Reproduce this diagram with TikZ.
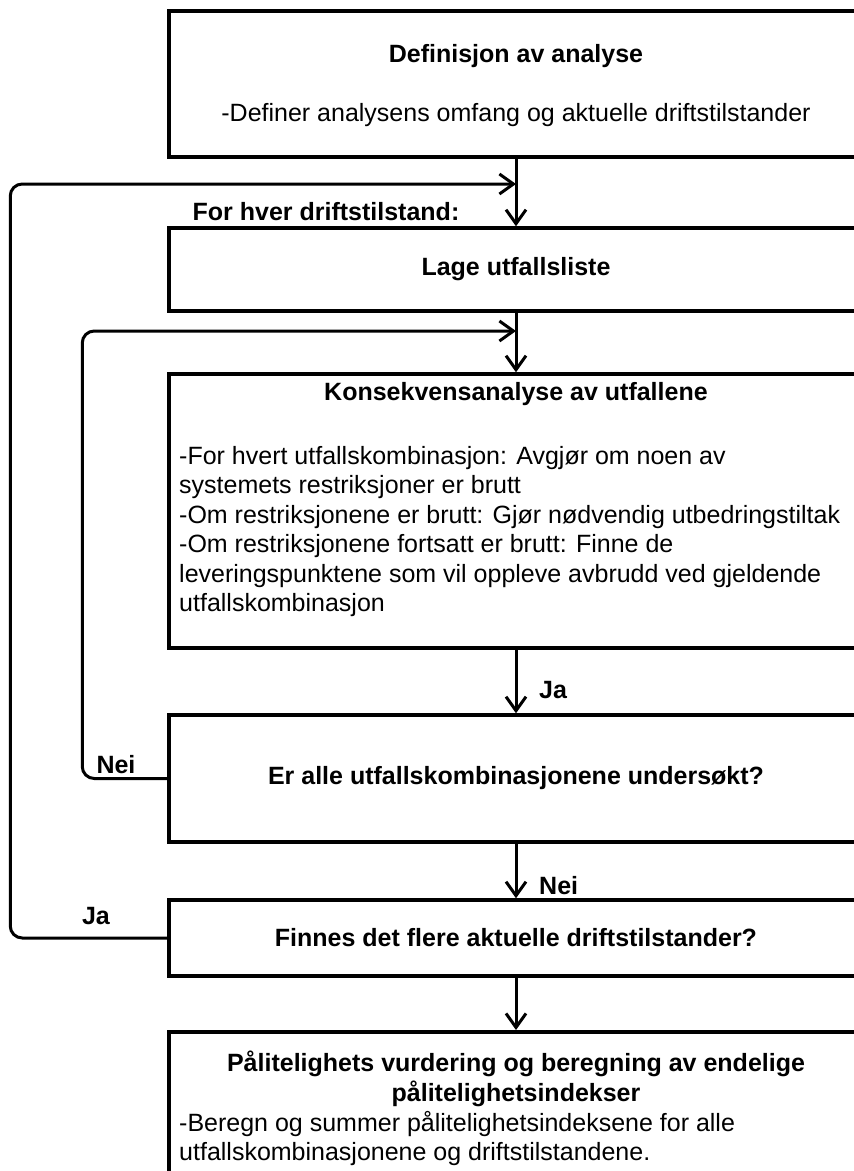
\documentclass[tikz,border=0pt]{standalone}
\usepackage{fontspec}
\setmainfont{Liberation Sans}
\usetikzlibrary{arrows.meta}

\tikzset{
  txt/.style={font=\fontsize{25}{29.5}\selectfont, inner sep=0pt},
  fet/.style={font=\fontsize{25}{29.5}\selectfont\bfseries, inner sep=0pt},
  boks/.style={draw, line width=3.5pt, minimum width=694pt, inner sep=0pt},
  pil/.style={->, line width=3pt},
}

\begin{document}
\begin{tikzpicture}[x=1pt, y=-1pt, >={Straight Barb[length=14pt,width=20pt]}]
		\clip (0,0) rectangle (854,1171);

		% Definisjon av analyse
		\node[boks, minimum height=146pt] (def) at (516,84) {};
		\node[fet] (def-t) at (516,56) {Definisjon av analyse};
		\node[txt] (def-b) at (516,115) {-Definer analysens omfang og aktuelle driftstilstander};

		% Lage utfallsliste
		\node[fet] (hver) at (326,212) {For hver driftstilstand:};
		\node[boks, fet, minimum height=83pt] (liste) at (516,269.5) {Lage utfallsliste};

		% Konsekvensanalyse
		\node[boks, minimum height=274pt] (kons) at (516,511) {};
		\node[fet] (kons-t) at (516,394) {Konsekvensanalyse av utfallene};
		\node[txt, anchor=north west, align=left] (kons-b) at (179,446) {-For hvert utfallskombinasjon: Avgjør om noen av\\
			systemets restriksjoner er brutt\\
			-Om restriksjonene er brutt: Gjør nødvendig utbedringstiltak\\
			-Om restriksjonene fortsatt er brutt: Finne de\\
			leveringspunktene som vil oppleve avbrudd ved gjeldende\\
			utfallskombinasjon};

		% Beslutninger
		\node[boks, fet, minimum height=127pt] (er) at (516,778.5) {Er alle utfallskombinasjonene undersøkt?};
		\node[boks, fet, minimum height=76pt] (fin) at (516,938) {Finnes det flere aktuelle driftstilstander?};

		% Pålitelighetsvurdering
		\node[boks, anchor=north, minimum height=200pt] (beregn) at (516,1030) {};
		\node[fet, anchor=north, align=center] (beregn-t) at (516,1051) {Pålitelighets vurdering og beregning av endelige\\pålitelighetsindekser};
		\node[txt, anchor=north west, align=left] (beregn-b) at (179,1111) {-Beregn og summer pålitelighetsindeksene for alle\\
			utfallskombinasjonene og driftstilstandene.};

		% Piler nedover
		\draw[pil] (def) -- (liste);
		\draw[pil] (liste) -- (kons);
		\draw[pil] (kons) -- (er);
		\draw[pil] (er) -- (fin);
		\draw[pil] (fin) -- (beregn);
		\node[fet, anchor=west] (ja1) at (539,690) {Ja};
		\node[fet, anchor=west] (nei2) at (539,886) {Nei};

		% Tilbakekoblinger
		\coordinate (m1) at (516,184);
		\coordinate (m2) at (516,331);
		\draw[pil, rounded corners=12pt] (er.west) -- ++(-85,0) |- (m2);
		\draw[pil, rounded corners=12pt] (fin.west) -- ++(-157,0) |- (m1);
		\node[fet] (nei1) at (116,765) {Nei};
		\node[fet] (ja2) at (96,916) {Ja};
	\end{tikzpicture}
\end{document}
